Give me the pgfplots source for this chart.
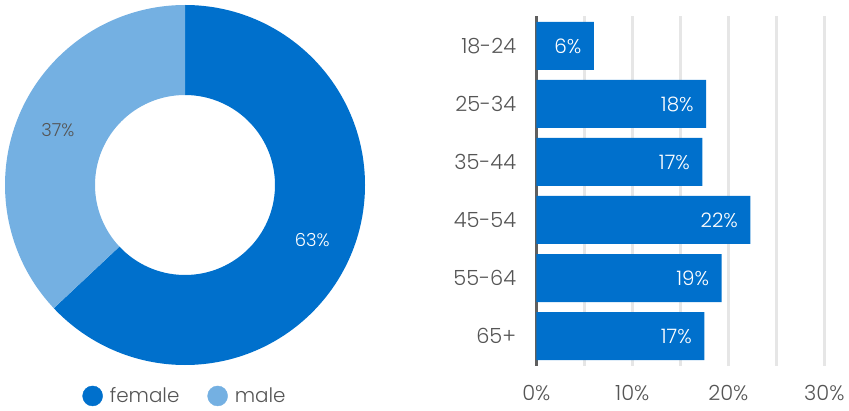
\documentclass[border=0pt]{standalone}
\usepackage{pgfplots}
\pgfplotsset{compat=1.18}
\usepackage{pgfplotstable}
\usepackage{fontspec}
\IfFontExistsTF{Poppins Light}{\setmainfont{Poppins Light}}{\setmainfont{Poppins}}

\definecolor{dblue}{HTML}{0070CC}
\definecolor{lblue}{HTML}{74B0E2}
\definecolor{txt}{HTML}{555555}
\definecolor{axgray}{HTML}{5F5F5F}
\definecolor{gridgray}{HTML}{E6E6E6}

% age groups: position (top = 5), share, label
\pgfplotstableread{
pos val lab
5 6.0 6
4 17.7 18
3 17.3 17
2 22.3 22
1 19.3 19
0 17.5 17
}\agetable

% gender shares
\def\female{63}
\def\male{37}
\pgfmathsetmacro{\aA}{90}
\pgfmathsetmacro{\aB}{90-3.6*\female}
\pgfmathsetmacro{\aC}{\aB-3.6*\male}
\pgfmathsetmacro{\mF}{(\aA+\aB)/2}
\pgfmathsetmacro{\mM}{(\aB+\aC)/2}

\begin{document}
\begin{tikzpicture}
\useasboundingbox (0,0) rectangle (849bp,411bp);
% ---------- donut ----------
\begin{axis}[
  at={(185bp,226bp)}, anchor=center,
  scale only axis, width=360bp, height=360bp,
  xmin=-1, xmax=1, ymin=-1, ymax=1,
  hide axis, clip=false,
  legend columns=2,
  legend style={at={(0.5,-0.086)}, anchor=center, draw=none, fill=none,
    font=\fontsize{20}{24}\selectfont, text=txt,
    /tikz/every even column/.append style={column sep=26bp}},
]
\addlegendimage{legend image code/.code={\fill[dblue] (0bp,0bp) circle (10bp); \path (15bp,0bp);}}
\addlegendentry{female}
\addlegendimage{legend image code/.code={\fill[lblue] (0bp,0bp) circle (10bp); \path (15bp,0bp);}}
\addlegendentry{male}
\fill[dblue] (axis cs:{cos(\aA)},{sin(\aA)}) arc[start angle=\aA, end angle=\aB, radius=180bp]
  -- (axis cs:{0.5*cos(\aB)},{0.5*sin(\aB)}) arc[start angle=\aB, end angle=\aA, radius=90bp] -- cycle;
\fill[lblue] (axis cs:{cos(\aB)},{sin(\aB)}) arc[start angle=\aB, end angle=\aC, radius=180bp]
  -- (axis cs:{0.5*cos(\aC)},{0.5*sin(\aC)}) arc[start angle=\aC, end angle=\aB, radius=90bp] -- cycle;
\node[text=white, font=\fontsize{18}{20}\selectfont] at (axis cs:{0.77*cos(\mF)},{0.77*sin(\mF)}) {\female\%};
\node[text=txt, font=\fontsize{18}{20}\selectfont] at (axis cs:{0.77*cos(\mM)},{0.77*sin(\mM)}) {\male\%};
\end{axis}
% ---------- bars ----------
\begin{axis}[
  at={(536.3bp,45bp)}, anchor=south west,
  scale only axis, width=288bp, height=350bp,
  xbar, bar width=48bp,
  xmin=0, xmax=30, ymin=-0.517, ymax=5.517,
  ytick={0,...,5}, yticklabels={65+,55-64,45-54,35-44,25-34,18-24},
  xtick={0,10,20,30}, xticklabels={0\%,10\%,20\%,30\%},
  minor xtick={5,15,25},
  xmajorgrids, xminorgrids,
  major grid style={gridgray, line width=2.8bp},
  minor grid style={gridgray, line width=2.8bp},
  major tick length=0pt, minor tick length=0pt,
  axis lines*=left, separate axis lines,
  x axis line style={draw=none},
  y axis line style={axgray, line width=3bp},
  /pgf/number format/assume math mode=true,
  tick label style={text=txt, font=\fontsize{21}{24}\selectfont, inner sep=0pt},
  yticklabel style={anchor=east, xshift=-20bp},
  xticklabel style={anchor=north, yshift=-19bp},
  point meta=explicit symbolic,
  nodes near coords={\pgfplotspointmeta\%},
  every node near coord/.append style={anchor=east, xshift=-9bp, text=white,
    font=\fontsize{20}{22}\selectfont},
]
\addplot[fill=dblue, draw=none] table[x=val, y=pos, meta=lab] {\agetable};
\end{axis}
\end{tikzpicture}
\end{document}
